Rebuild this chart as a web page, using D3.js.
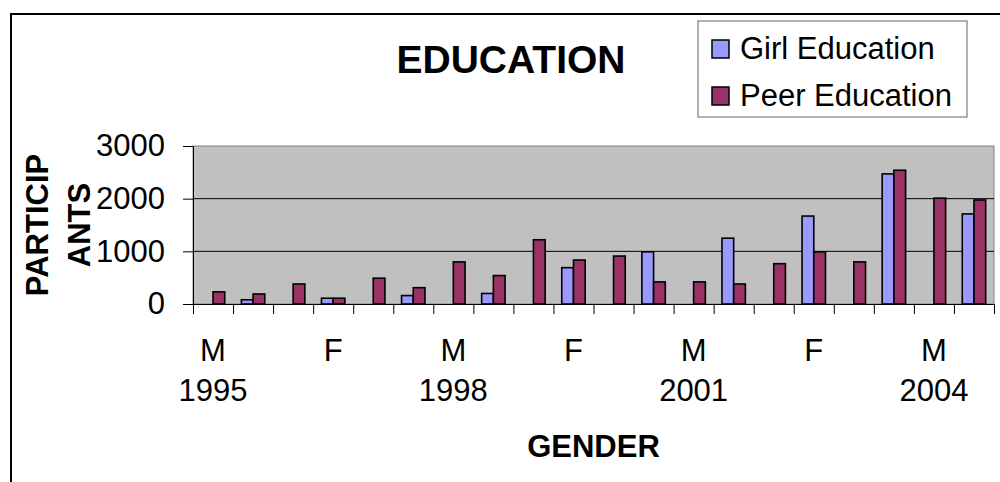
<!DOCTYPE html>
<html>
<head>
<meta charset="utf-8">
<script src="https://cdn.jsdelivr.net/npm/d3@7"></script>
<style>
body{margin:0;background:#fff}
svg{display:block;font-family:'Liberation Sans',Arial,sans-serif}
</style>
</head>
<body>
<svg id="chart" width="1000" height="482"></svg>
<script>
'use strict'

var years = [1995,1996,1997,1998,1999,2000,2001,2002,2003,2004];
var genders = ['M','F'];
var seriesNames = ['Girl Education','Peer Education'];
var seriesColors = ['#9999ff','#993366'];
// one value per category, order M1995, F1995, M1996, ...
var girlValues = [0,80, 0,110, 0,160, 0,200, 0,690, 0,990, 0,1250, 0,1670, 0,2470, 0,1710];
var peerValues = [230,190, 380,110, 490,310, 800,540, 1220,835, 910,420, 420,380, 765,990, 800,2540, 2010,1975];
var yTicks = [0,1000,2000,3000];
var labelEvery = 3;

var categories = [];
for(var c = 0;c<years.length;c++){
	for(var g = 0;g<genders.length;g++)
		categories.push({gender:genders[g], year:years[c]});
}

var plotLeft = 193, plotRight = 994, plotTop = 146, plotBottom = 304;
var fontSize = 31;
var svg = d3.select('#chart');

// outer frame
svg.append('rect')
	.attr('x',11).attr('y',14)
	.attr('width',1000).attr('height',480)
	.attr('fill','none').attr('stroke','#000').attr('stroke-width',2);

var x = d3.scaleBand().domain(d3.range(categories.length)).range([plotLeft,plotRight]);
var xInner = d3.scaleBand().domain([0,1]).range([0,x.bandwidth()]).paddingOuter(0.71);
var y = d3.scaleLinear().domain([0,3000]).range([plotBottom,plotTop]);
var xIdx = d3.scaleLinear().domain([0,categories.length]).range([plotLeft,plotRight]);

// plot area
svg.append('rect')
	.attr('x',plotLeft).attr('y',plotTop)
	.attr('width',plotRight-plotLeft).attr('height',plotBottom-plotTop)
	.attr('fill','#c0c0c0').attr('stroke','#808080').attr('stroke-width',1);

// gridlines
svg.append('g').selectAll('line')
	.data(yTicks.filter(function(v){return v>0 && v<3000;}))
	.enter().append('line')
	.attr('x1',plotLeft).attr('x2',plotRight)
	.attr('y1',function(v){return y(v);}).attr('y2',function(v){return y(v);})
	.attr('stroke','#000').attr('stroke-width',1);

// bars
var series = [girlValues, peerValues];
for(var s = 0;s<series.length;s++){
	svg.append('g').selectAll('rect')
		.data(series[s].map(function(v,i){return {i:i, v:v};}).filter(function(d){return d.v>0;}))
		.enter().append('rect')
		.attr('x',function(d){return x(d.i)+xInner(s);})
		.attr('width',xInner.bandwidth())
		.attr('y',function(d){return y(d.v);})
		.attr('height',function(d){return plotBottom-y(d.v);})
		.attr('fill',seriesColors[s])
		.attr('stroke','#000').attr('stroke-width',1.6);
}

// y axis
var yAxis = svg.append('g')
	.attr('transform','translate('+plotLeft+',0)')
	.call(d3.axisLeft(y).tickValues(yTicks).tickFormat(d3.format('d')).tickSize(10).tickPadding(18).tickSizeOuter(0));
yAxis.select('.domain').attr('stroke','#000');
yAxis.selectAll('line').attr('stroke','#000');
yAxis.selectAll('text').attr('font-size',fontSize).attr('fill','#000').attr('font-family',null);

// x axis: ticks at category boundaries
var xAxis = svg.append('g')
	.attr('transform','translate(0,'+plotBottom+')')
	.call(d3.axisBottom(xIdx).tickValues(d3.range(categories.length+1)).tickSize(10).tickFormat('').tickSizeOuter(0));
xAxis.select('.domain').attr('stroke','#000');
xAxis.selectAll('line').attr('stroke','#000');

// x labels
var labelled = d3.range(0,categories.length,labelEvery);
var lbl = svg.append('g').selectAll('text')
	.data(labelled).enter().append('text')
	.attr('text-anchor','middle')
	.attr('font-size',fontSize)
	.attr('fill','#000');
lbl.append('tspan')
	.attr('x',function(i){return x(i)+x.bandwidth()/2;})
	.attr('y',361)
	.text(function(i){return categories[i].gender;});
lbl.append('tspan')
	.attr('x',function(i){return x(i)+x.bandwidth()/2;})
	.attr('y',401)
	.text(function(i){return categories[i].gender=='M' ? categories[i].year : '';});

// titles
svg.append('text')
	.attr('x',511).attr('y',73)
	.attr('text-anchor','middle')
	.attr('font-size',39).attr('font-weight','bold')
	.text('EDUCATION');
svg.append('text')
	.attr('x',(plotLeft+plotRight)/2).attr('y',457)
	.attr('text-anchor','middle')
	.attr('font-size',fontSize).attr('font-weight','bold')
	.text('GENDER');
svg.append('text')
	.attr('transform','translate(48,225) rotate(-90)')
	.attr('text-anchor','middle')
	.attr('font-size',fontSize).attr('font-weight','bold')
	.text('PARTICIP');
svg.append('text')
	.attr('transform','translate(90,225) rotate(-90)')
	.attr('text-anchor','middle')
	.attr('font-size',fontSize).attr('font-weight','bold')
	.text('ANTS');

// legend
var legend = svg.append('g');
legend.append('rect')
	.attr('x',698).attr('y',21)
	.attr('width',269).attr('height',96)
	.attr('fill','#fff').attr('stroke','#666').attr('stroke-width',1);
var rowY = [49,96];
for(var s = 0;s<seriesNames.length;s++){
	legend.append('rect')
		.attr('x',712).attr('y',rowY[s]-9)
		.attr('width',17).attr('height',18)
		.attr('fill',seriesColors[s])
		.attr('stroke','#000').attr('stroke-width',1.5);
	legend.append('text')
		.attr('x',740).attr('y',rowY[s]+10)
		.attr('font-size',fontSize)
		.text(seriesNames[s]);
}
</script>
</body>
</html>
